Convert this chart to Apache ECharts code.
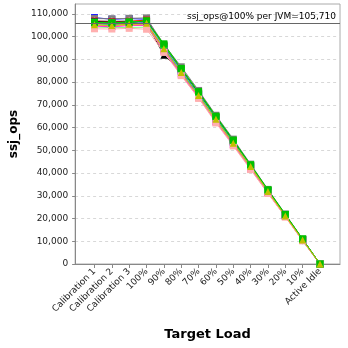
<!DOCTYPE html>
<html>
<head>
<meta charset="utf-8">
<script src="https://cdn.jsdelivr.net/npm/echarts@6/dist/echarts.min.js"></script>
<style>html,body{margin:0;padding:0;background:#fff}#c{width:348px;height:348px}</style>
</head>
<body>
<div id="c"></div>
<script>
const categories = ['Calibration 1','Calibration 2','Calibration 3','100%','90%','80%','70%','60%','50%','40%','30%','20%','10%','Active Idle'];
const refValue = 105710;
const refLabel = 'ssj_ops@100% per JVM=105,710';
const yTicks = [0,10000,20000,30000,40000,50000,60000,70000,80000,90000,100000,110000];

const jvm1  = [106800,106500,106700,107200,95800,85600,75100,64300,53800,43200,32300,21500,10800,0];
const jvm2  = [108300,107600,107900,107600,96000,85200,74600,64600,54200,42800,32000,21200,10500,0];
const jvm3  = [106000,105800,106100,106900,96800,86000,75800,65000,54500,43600,32600,21800,10900,0];
const jvm4  = [105200,104900,105400,105800,94600,84200,74100,63600,53100,42900,31900,21100,10600,0];
const jvm5  = [104600,104300,104800,104900,93800,83400,73300,62400,52400,41900,31300,20900,10300,0];
const jvm6  = [105600,105200,105600,105400,94900,84600,74400,63900,53400,42600,32100,21400,10700,0];
const jvm7  = [103400,103300,103600,103200,93000,82800,72900,62000,51900,41500,31000,20700,10200,0];
const jvm8  = [107900,107800,108000,108200,96500,86700,76300,65400,54900,43900,32800,22000,11000,0];
const jvm9  = [106400,106200,106300,106000,91800,84900,74900,64100,53600,43100,31500,21300,10400,0];
const jvm10 = [104200,103900,104000,104100,94200,83800,73800,63200,52800,42200,31600,21000,10100,0];
const jvm11 = [105900,105500,105900,106400,95400,85000,74700,64000,53500,43000,32200,21400,10800,0];
const jvm12 = [104900,104600,105000,105100,93400,83100,73000,62600,52600,41800,31200,20800,10300,0];
const jvm13 = [107200,106900,107100,107000,95100,84500,74200,63700,53300,42500,31800,21200,10600,0];
const jvm14 = [105000,104700,105200,105500,94400,84000,73600,63000,52900,42400,31700,21100,10500,0];
const jvm15 = [106600,106300,106500,106600,95600,85400,75000,64400,53900,43300,32400,21600,10900,0];
const jvm16 = [106200,106000,106400,106800,96200,85800,75500,64800,54300,43500,32500,21700,11000,0];

// draw order: first drawn ends up underneath
const seriesData = [jvm2, jvm8, jvm13, jvm1, jvm15, jvm9, jvm11, jvm6, jvm14, jvm10, jvm5, jvm12, jvm7, jvm16, jvm3, jvm4];
const colors     = ['#0000ff','#808080','#c0c0c0','#ff0000','#404040','#000000','#8080ff','#00c0c0','#ffc800','#80ff80','#ff00ff','#ff8080','#ffafaf','#00ff00','#00c000','#c0c000'];
const symbols    = ['rect','rect','diamond','rect','rect','triangle','diamond','rect','triangle','diamond','rect','triangle','rect','rect','rect','triangle'];

const yMax = 114300;

const series = seriesData.map((d, i) => ({
  type: 'line',
  xAxisIndex: 1, yAxisIndex: 1,
  data: d,
  symbol: symbols[i],
  symbolSize: 7,
  color: colors[i],
  lineStyle: { width: 1, color: colors[i] },
  itemStyle: { color: colors[i] },
  animation: false,
  z: 3
}));

series.push({
  type: 'line',
  xAxisIndex: 0, yAxisIndex: 0,
  data: [],
  animation: false,
  markLine: {
    silent: true,
    symbol: ['none','none'],
    lineStyle: { color: '#666', width: 1, type: 'solid' },
    label: {
      show: true, position: 'insideEndTop', distance: [4, 2],
      formatter: refLabel, color: '#000', fontSize: 9, fontFamily: 'DejaVu Sans'
    },
    data: [{ yAxis: refValue }]
  },
  z: 4
});

const chart = echarts.init(document.getElementById('c'));
chart.setOption({
  backgroundColor: '#fff',
  animation: false,
  grid: [
    { left: 74, right: 8, top: 4, bottom: 84, show: true, borderColor: '#aaa', borderWidth: 1, backgroundColor: 'transparent' },
    { left: 94.5, right: 28, top: 4, bottom: 84 }
  ],
  xAxis: [
    { type: 'value', gridIndex: 0, min: 0, max: 1,
      axisLine: { show: true, lineStyle: { color: '#888' } },
      axisTick: { show: false }, axisLabel: { show: false }, splitLine: { show: false },
      name: 'Target Load', nameLocation: 'middle', nameGap: 64,
      nameTextStyle: { fontSize: 13, fontWeight: 'bold', color: '#000', fontFamily: 'DejaVu Sans' } },
    { type: 'category', gridIndex: 1, data: categories, boundaryGap: false,
      axisLine: { show: false },
      axisTick: { show: true, length: 4, lineStyle: { color: '#888' } },
      axisLabel: { rotate: 45, fontSize: 9, color: '#222', fontFamily: 'DejaVu Sans', margin: 6, interval: 0 },
      splitLine: { show: false } }
  ],
  yAxis: [
    { type: 'value', gridIndex: 0, min: 0, max: yMax, interval: 10000,
      axisLine: { show: true, lineStyle: { color: '#888' } },
      axisTick: { show: true, length: 3, lineStyle: { color: '#888' }, customValues: yTicks },
      axisLabel: { fontSize: 9, color: '#222', fontFamily: 'DejaVu Sans', margin: 7,
        customValues: yTicks,
        formatter: v => v.toLocaleString('en-US') },
      splitLine: { show: true, lineStyle: { color: '#d8d8d8', type: [3, 3], width: 1 } },
      name: 'ssj_ops', nameLocation: 'middle', nameGap: 44,
      nameTextStyle: { fontSize: 12, fontWeight: 'bold', color: '#000', fontFamily: 'DejaVu Sans' } },
    { type: 'value', gridIndex: 1, min: 0, max: yMax, show: false, splitLine: { show: false } }
  ],
  series: series
});
</script>
</body>
</html>
